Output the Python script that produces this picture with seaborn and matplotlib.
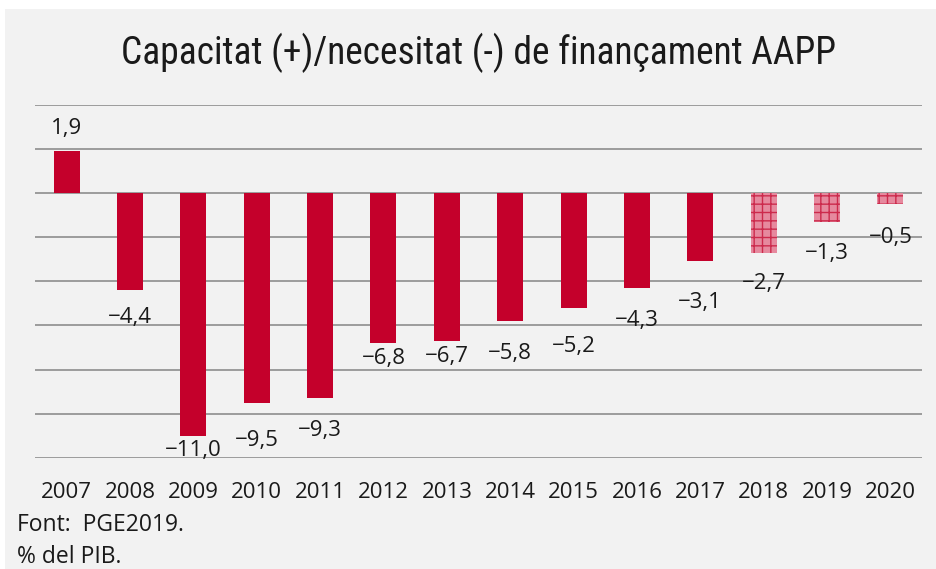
import matplotlib
matplotlib.use("Agg")
import matplotlib.pyplot as plt
import matplotlib.font_manager as fm
from matplotlib.patches import Rectangle
import seaborn as sns
import pandas as pd

years = ["2007", "2008", "2009", "2010", "2011", "2012", "2013",
         "2014", "2015", "2016", "2017", "2018", "2019", "2020"]
values = [1.9, -4.4, -11.0, -9.5, -9.3, -6.8, -6.7,
          -5.8, -5.2, -4.3, -3.1, -2.7, -1.3, -0.5]
forecast = [False] * 11 + [True] * 3
labels = ["1,9", "\u22124,4", "\u221211,0", "\u22129,5", "\u22129,3", "\u22126,8", "\u22126,7",
          "\u22125,8", "\u22125,2", "\u22124,3", "\u22123,1", "\u22122,7", "\u22121,3", "\u22120,5"]
yticks = [4, 2, 0, -2, -4, -6, -8, -10, -12]
title = "Capacitat (+)/necesitat (-) de finançament AAPP"
notes = ["Font:  PGE2019.", "% del PIB."]

# layout: vertical nudge of each value label's baseline from the bar end (pixels)
label_nudge = [17, -33, -20, -43, -38, -21, -21, -38, -44, -38, -47, -36, -37, -39]

sns.set_theme(style="white")
names = {f.name for f in fm.fontManager.ttflist}
body_font = "Open Sans" if "Open Sans" in names else "DejaVu Sans"
plt.rcParams["font.family"] = [body_font, "DejaVu Sans"]
plt.rcParams["hatch.linewidth"] = 1.0

# look for a condensed face for the title
title_prop = None
for cand in ["Roboto Condensed", "Liberation Sans Narrow", "Open Sans Condensed",
             "Noto Sans Condensed", "Noto Sans SemiCondensed", "DejaVu Sans Condensed"]:
    if cand in names:
        title_prop = fm.FontProperties(family=cand)
        break
if title_prop is None:
    for f in fm.fontManager.ttflist:
        if f.stretch in ("condensed", "semi-condensed") and f.weight in (400, "normal", "regular") \
                and f.style == "normal":
            title_prop = fm.FontProperties(fname=f.fname)
            break
title_size = 27
if title_prop is None:
    title_prop = fm.FontProperties(family=["Roboto", "DejaVu Sans"])
    title_size = 24
title_prop.set_size(title_size)

RED = "#c4002b"
PINK = "#e6899e"
HATCH = "#cc2a4c"
BG = "#f2f2f2"
TXT = "#1a1a1a"

fig = plt.figure(figsize=(9.36, 5.69), dpi=100, facecolor="white")
fig.patches.append(Rectangle((5 / 936, 0), 1, 1 - 9 / 569, transform=fig.transFigure,
                             facecolor=BG, edgecolor="none", zorder=-10))
ax = fig.add_axes([35 / 936, 1 - 458 / 569, (922 - 35) / 936, (458 - 104.6) / 569])
ax.set_facecolor("none")

df = pd.DataFrame({"year": years, "value": values})
sns.barplot(data=df, x="year", y="value", color=RED, saturation=1, width=0.41, ax=ax, zorder=3)

for p, fc in zip(ax.patches, forecast):
    p.set_linewidth(0)
    if fc:
        p.set_facecolor(PINK)
        p.set_edgecolor(HATCH)
        p.set_hatch("++")

for i, (v, lab, dy) in enumerate(zip(values, labels, label_nudge)):
    ax.annotate(lab, (i, v), xytext=(0, dy), textcoords="offset pixels",
                ha="center", va="baseline", fontsize=16, color=TXT, annotation_clip=False)

ax.set_ylim(-12, 4)
ax.set_xlim(-0.5, 13.5)
ax.set_yticks(yticks)
ax.yaxis.grid(True, color="#9c9c9c", linewidth=1.4, zorder=0)
ax.set_axisbelow(True)
ax.tick_params(axis="y", left=False, labelleft=False)
ax.tick_params(axis="x", length=0, pad=17, labelsize=16, labelcolor=TXT)
for s in ax.spines.values():
    s.set_visible(False)
ax.set_xlabel("")
ax.set_ylabel("")

fig.text(479 / 936, 1 - 53 / 569, title, ha="center", va="center",
         fontproperties=title_prop, color=TXT)
fig.text(17 / 936, 1 - 525 / 569, notes[0], ha="left", va="center", fontsize=16.5, color=TXT)
fig.text(17 / 936, 1 - 557 / 569, notes[1], ha="left", va="center", fontsize=16.5, color=TXT)

fig.savefig("out.png", dpi=100, facecolor="white")
